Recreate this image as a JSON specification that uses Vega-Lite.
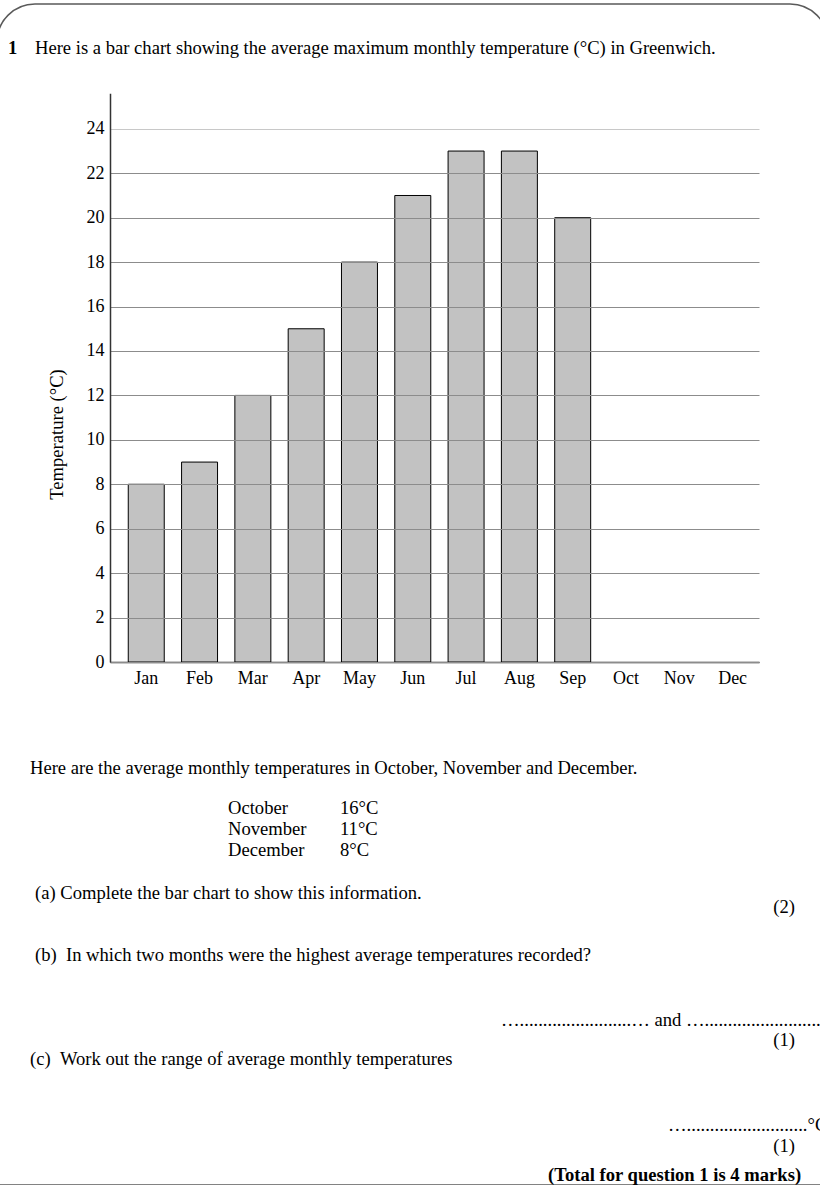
{
  "$schema": "https://vega.github.io/schema/vega-lite/v6.json",
  "width": 831,
  "height": 1181,
  "autosize": "none",
  "padding": {"left": -3, "top": 4, "right": 0, "bottom": 0},
  "background": "white",
  "config": {
    "view": {"stroke": "#5a5a5a", "strokeWidth": 1.5},
    "style": {"cell": {"cornerRadiusTopLeft": 38, "cornerRadiusTopRight": 38}},
    "font": "Liberation Serif",
    "axis": {"labelFont": "Liberation Serif", "titleFont": "Liberation Serif", "labelColor": "#000", "titleColor": "#000"},
    "text": {"font": "Liberation Serif", "fontSize": 18.6, "color": "#000"}
  },
  "layer": [
    {
      "data": {"values": [
        {"month": "Jan", "temp": 8},
        {"month": "Feb", "temp": 9},
        {"month": "Mar", "temp": 12},
        {"month": "Apr", "temp": 15},
        {"month": "May", "temp": 18},
        {"month": "Jun", "temp": 21},
        {"month": "Jul", "temp": 23},
        {"month": "Aug", "temp": 23},
        {"month": "Sep", "temp": 20}
      ]},
      "mark": {"type": "bar", "fill": "#c2c2c2", "stroke": "#000", "strokeWidth": 1},
      "encoding": {
        "x": {
          "field": "month", "type": "ordinal",
          "scale": {"domain": ["Jan","Feb","Mar","Apr","May","Jun","Jul","Aug","Sep","Oct","Nov","Dec"], "range": [113, 762], "paddingInner": 0.325, "paddingOuter": 0.25, "align": 0.685},
          "axis": {"title": null, "offset": -523, "ticks": false, "tickSize": 0, "labelPadding": 7.6, "labelFontSize": 18, "labelFont": "Liberation Serif", "labelColor": "#000", "labelAngle": 0, "domainColor": "#222", "domainWidth": 1.5, "grid": false}
        },
        "y": {
          "field": "temp", "type": "quantitative",
          "scale": {"domain": [0, 25.6], "range": [658, 89.3], "nice": false},
          "axis": {
            "title": "Temperature (°C)",
            "values": [0, 2, 4, 6, 8, 10, 12, 14, 16, 18, 20, 22, 24],
            "offset": -113, "ticks": false, "tickSize": 0, "labelPadding": 6,
            "labelFontSize": 18, "labelFont": "Liberation Serif", "labelColor": "#000",
            "domainColor": "#333", "domainWidth": 1.5,
            "grid": true, "gridWidth": 1,
            "gridColor": {"condition": {"test": "datum.value === 24", "value": "#c8c8c8"}, "value": "#8c8c8c"},
            "zindex": 1,
            "titleFont": "Liberation Serif", "titleFontSize": 18.6, "titleFontWeight": "normal", "titleColor": "#000",
            "titleX": -44, "titleY": 430
          }
        }
      }
    },
    {
      "data": {"values": [
        {"text": "Here is a bar chart showing the average maximum monthly temperature (°C) in Greenwich.", "indent": 35, "line": 0},
        {"text": "Here are the average monthly temperatures in October, November and December.", "indent": 30, "line": 34.5},
        {"text": "October", "indent": 228, "line": 36.42},
        {"text": "16°C", "indent": 340, "line": 36.42},
        {"text": "November", "indent": 228, "line": 37.42},
        {"text": "11°C", "indent": 340, "line": 37.42},
        {"text": "December", "indent": 228, "line": 38.43},
        {"text": "8°C", "indent": 340, "line": 38.43},
        {"text": "(a) Complete the bar chart to show this information.", "indent": 35, "line": 40.49},
        {"text": "(b)\u00a0\u00a0In which two months were the highest average temperatures recorded?", "indent": 35, "line": 43.46},
        {"text": "…........................… and …...........................", "indent": 501, "line": 46.57},
        {"text": "(c)\u00a0\u00a0Work out the range of average monthly temperatures", "indent": 30, "line": 48.44},
        {"text": "…..........................°C", "indent": 668, "line": 51.61}
      ]},
      "mark": {"type": "text", "align": "left", "baseline": "middle", "font": "Liberation Serif", "fontSize": 18.6, "color": "#000"},
      "encoding": {
        "x": {"field": "indent", "type": "quantitative", "scale": {"domain": [0, 820], "range": [3, 823]}, "axis": null},
        "y": {"field": "line", "type": "quantitative", "scale": {"domain": [0, 54], "range": [44, 1171], "nice": false, "zero": false}, "axis": null},
        "text": {"field": "text"}
      }
    },
    {
      "data": {"values": [
        {"text": "(2)", "indent": 795, "line": 41.16},
        {"text": "(1)", "indent": 795, "line": 47.53},
        {"text": "(1)", "indent": 795, "line": 52.61}
      ]},
      "mark": {"type": "text", "align": "right", "baseline": "middle", "font": "Liberation Serif", "fontSize": 18.6, "color": "#000"},
      "encoding": {
        "x": {"field": "indent", "type": "quantitative", "scale": {"domain": [0, 820], "range": [3, 823]}, "axis": null},
        "y": {"field": "line", "type": "quantitative", "scale": {"domain": [0, 54], "range": [44, 1171], "nice": false, "zero": false}, "axis": null},
        "text": {"field": "text"}
      }
    },
    {
      "data": {"values": [
        {"text": "1", "indent": 8, "line": 0},
        {"text": "(Total for question 1 is 4 marks)", "indent": 548, "line": 54}
      ]},
      "mark": {"type": "text", "align": "left", "baseline": "middle", "font": "Liberation Serif", "fontSize": 18.6, "fontWeight": "bold", "color": "#000"},
      "encoding": {
        "x": {"field": "indent", "type": "quantitative", "scale": {"domain": [0, 820], "range": [3, 823]}, "axis": null},
        "y": {"field": "line", "type": "quantitative", "scale": {"domain": [0, 54], "range": [44, 1171], "nice": false, "zero": false}, "axis": null},
        "text": {"field": "text"}
      }
    }
  ],
  "resolve": {"scale": {"x": "independent", "y": "independent"}}
}
